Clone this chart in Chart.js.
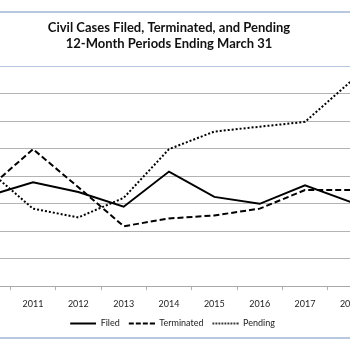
<!DOCTYPE html>
<html lang="en">
<head>
  <meta charset="UTF-8">
  <title>Civil Cases Filed, Terminated, and Pending</title>
  <script src="https://cdn.jsdelivr.net/npm/chart.js"></script>
  <style>
    html, body { margin: 0; padding: 0; background: #fff; overflow: hidden; width: 350px; height: 350px; }
    /* the reference is a crop of a wider chart, so the chart is wider than the window */
    #chartWrapper {
      position: absolute;
      left: -80px;
      top: 11px;
      width: 510px;
      border-top: 2px solid #b7c7df;
      border-bottom: 2px solid #b7c7df;
    }
    canvas { display: block; }
  </style>
</head>
<body>
  <div id="chartWrapper">
    <canvas id="casesChart" width="510" height="324"></canvas>
  </div>

  <script>
    const years = ['2010', '2011', '2012', '2013', '2014', '2015', '2016', '2017', '2018'];
    const filed      = [282000, 294500, 285600, 272300, 304200, 281200, 274900, 291800, 276700];
    const terminated = [288200, 324600, 290000, 254500, 261600, 264300, 270500, 287400, 287400];
    const pending    = [306000, 270500, 262500, 280300, 324600, 340600, 345000, 349400, 385800];

    const ctx = document.getElementById('casesChart').getContext('2d');
    const font = 'Lato, "Open Sans", sans-serif';

    // little line samples for the legend (the point-style legend ignores dashes);
    // the blank left part gives the gap between legend items
    function legendLine(dash) {
      const c = document.createElement('canvas');
      c.width = 33;
      c.height = 4;
      const g = c.getContext('2d');
      g.strokeStyle = '#000';
      g.lineWidth = 2;
      g.setLineDash(dash);
      g.beginPath();
      g.moveTo(7, 2);
      g.lineTo(33, 2);
      g.stroke();
      return c;
    }

    new Chart(ctx, {
      type: 'line',
      data: {
        labels: years,
        datasets: [
          { label: 'Filed', data: filed, borderColor: '#000', backgroundColor: '#000', borderWidth: 2,
            pointStyle: legendLine([]) },
          { label: 'Terminated', data: terminated, borderColor: '#000', backgroundColor: '#000', borderWidth: 2,
            borderDash: [6, 3], pointStyle: legendLine([5, 2]) },
          { label: 'Pending', data: pending, borderColor: '#000', backgroundColor: '#000', borderWidth: 2,
            borderDash: [2, 2], pointStyle: legendLine([1.5, 1.5]) }
        ]
      },
      options: {
        responsive: false,
        animation: false,
        elements: { point: { radius: 0 }, line: { tension: 0 } },
        layout: { padding: { left: 45, right: 57, top: 0, bottom: -1 } },
        scales: {
          x: {
            offset: true,
            grid: { offset: true, drawOnChartArea: false, drawTicks: true, tickLength: 4, color: '#b0b0b0' },
            border: { color: '#a8a8a8' },
            ticks: { autoSkip: false, maxRotation: 0, padding: 8, color: '#222', font: { family: font, size: 9 } }
          },
          y: {
            min: 200000,
            max: 400000,
            ticks: { stepSize: 25000, display: false },
            border: { display: false },
            grid: {
              drawTicks: false,
              color: c => c.tick && c.tick.value === 400000 ? '#b7c7df' : '#b3b3b3'
            }
          }
        },
        plugins: {
          title: {
            display: true,
            text: ['Civil Cases Filed, Terminated, and Pending', '12-Month Periods Ending March 31'],
            color: '#111',
            font: { family: font, size: 13, weight: 'bold', lineHeight: 1.2 },
            padding: { top: 7, bottom: 15 }
          },
          legend: {
            position: 'bottom',
            labels: {
              usePointStyle: true,
              pointStyleWidth: 33,
              boxHeight: 9,
              padding: 2,
              color: '#222',
              font: { family: font, size: 9 }
            }
          },
          tooltip: { enabled: false }
        }
      }
    });
  </script>
</body>
</html>
